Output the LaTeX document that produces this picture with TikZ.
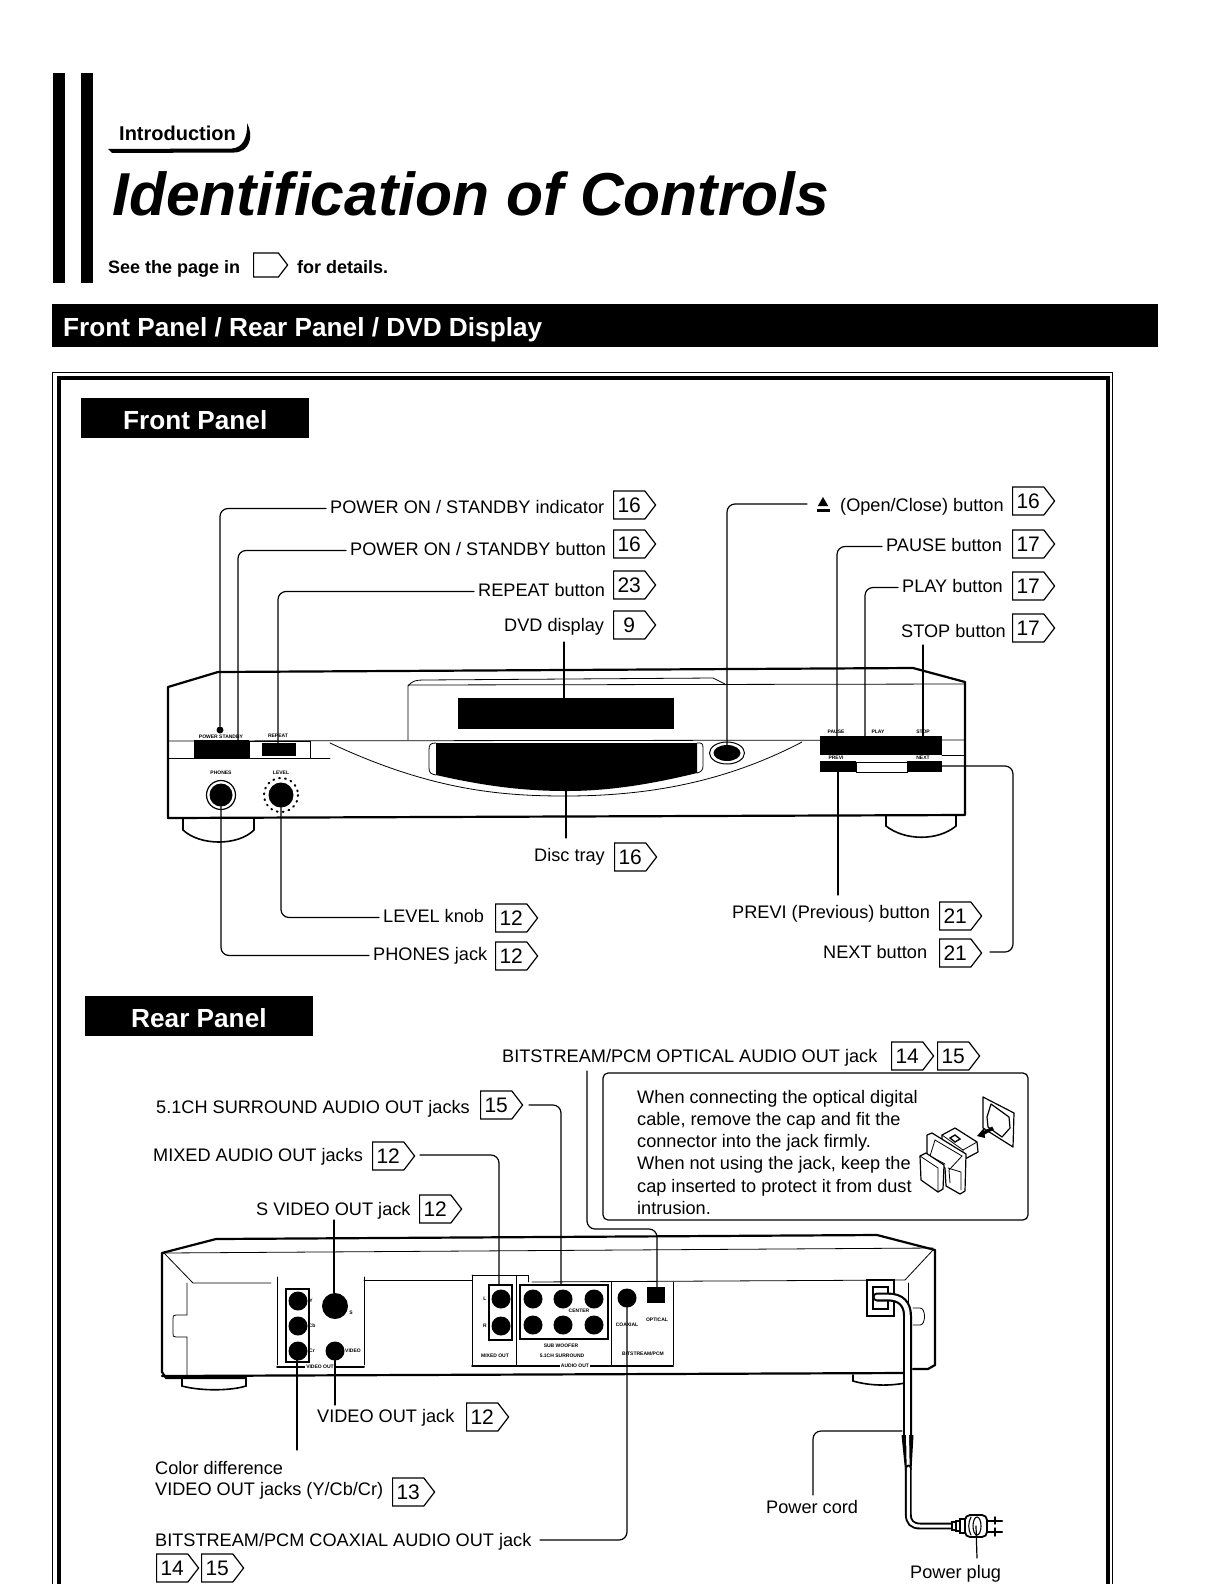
\documentclass[tikz,border=0pt]{standalone}
\usepackage{fontspec}
\setmainfont{Liberation Sans}
\usetikzlibrary{shapes.geometric,shapes.symbols}

\begin{document}
\begin{tikzpicture}[x=1pt, y=-1pt, line cap=round]
\tikzset{
  lab/.style={anchor=base west, font=\fontsize{18.15}{20}\selectfont, text height=13pt, text depth=4pt, inner sep=4pt},
  badge/.style={anchor=west, draw, line width=1.2pt, signal, signal to=east, signal from=nowhere, signal pointer angle=105, minimum width=42pt, minimum height=28pt, inner sep=1pt, font=\fontsize{21}{21}\selectfont},
  lead/.style={line width=1.2pt, rounded corners=8pt},
  hull/.style={line width=2.2pt, line join=round},
  thin line/.style={line width=0.8pt},
  cap line/.style={line width=1.2pt, line join=round, fill=white},
  tag/.style={anchor=base west, inner sep=0pt, text=white, font=\bfseries\fontsize{26.2}{26}\selectfont},
  mini/.style={inner sep=0pt, font=\bfseries\fontsize{5}{5}\selectfont},
  jack/.style={circle, fill=black, inner sep=0pt, outer sep=0pt, minimum size=19pt}
}
\useasboundingbox (0,0) rectangle (1224,1584);

% heading
\fill (53,73) rectangle (65,283);
\fill (81,73) rectangle (93,283);
\node[anchor=base west, inner sep=0pt, font=\bfseries\fontsize{20}{20}\selectfont] (intro) at (119,141) {Introduction};
\fill (108,149) -- (232,148.5) .. controls (242,148) and (248,138) .. (247,123) .. controls (254,136) and (250,152) .. (234,152.5) -- (112,153) -- cycle;
\node[anchor=base west, inner sep=0pt, font=\bfseries\itshape\fontsize{60.6}{60}\selectfont] (title) at (112,215) {Identification of Controls};
\node[anchor=base west, inner sep=0pt, font=\bfseries\fontsize{18}{18}\selectfont] (see) at (108,273) {See the page in};
\node[badge, minimum width=34pt, minimum height=24pt] (seebadge) at (253,265) {};
\node[anchor=base west, inner sep=0pt, font=\bfseries\fontsize{18}{18}\selectfont] (details) at (297,273) {for details.};
\fill (52,304) rectangle (1158,347);
\node[tag] (bar) at (63,336) {Front Panel / Rear Panel / DVD Display};

% frame
\draw[line width=0.8pt] (52,1584) -- (52,372) -- (1112,372) -- (1112,1584);
\draw[line width=3.5pt] (59,1584) -- (59,378) -- (1108,378) -- (1108,1584);
\fill (81,398) rectangle (309,438);
\node[tag] (fronttag) at (123,429) {Front Panel};
\fill (85,996) rectangle (313,1036);
\node[tag] (reartag) at (131,1027) {Rear Panel};

% front unit
\draw[hull, fill=white] (168,818) -- (168,687) -- (218,672) -- (913,668) -- (965,682) -- (965,815) -- cycle;
\draw[thin line] (408,740) -- (408,686) .. controls (412,681) and (416,680) .. (423,680) -- (713,678) -- (725,684);
\draw[thin line] (408,685) -- (965,684);
\draw[thin line] (168,741) -- (965,740);
\draw[thin line] (168,758) -- (330,758);
\draw[thin line] (942,755) -- (965,755);
\draw[thin line] (330,743) .. controls (430,790) and (500,796) .. (565,796) .. controls (640,796) and (720,785) .. (802,742);
\draw[line width=1.6pt] (183,819) -- (183,830) .. controls (200,846) and (238,846) .. (254,830) -- (254,818);
\draw[line width=1.6pt] (886,816) -- (886,826) .. controls (905,841) and (938,841) .. (956,826) -- (956,815);
\fill (458,698) rectangle (674,729);
\draw[thin line] (436,743) .. controls (430,743) and (429,745) .. (429,750) -- (429,768) .. controls (429,773) and (431,774) .. (436,775);
\draw[thin line] (697,743) -- (700,743) .. controls (703,743) and (703,746) .. (703,750) -- (703,766) .. controls (703,770) and (701,772) .. (697,773);
\fill (436,743) -- (697,743) -- (697,773) .. controls (640,787) and (600,791) .. (566,791) .. controls (520,791) and (480,785) .. (436,775) -- cycle;
\fill (194,740) rectangle (249,758);
\draw[thin line] (249,741) rectangle (310,758);
\fill (262,743) rectangle (296,756);
\fill (820,736) rectangle (942,755);
\draw[thin line] (856,762) rectangle (907,772);
\fill (820,761) rectangle (856,772);
\fill (907,761) rectangle (942,772);
\node[circle, fill=black, inner sep=0pt, minimum size=7pt] (pwrdot) at (220,730) {};
\node[ellipse, draw, line width=1pt, inner sep=0pt, minimum width=35pt, minimum height=22pt] (ejectring) at (727,753) {};
\node[ellipse, fill=black, inner sep=0pt, minimum width=27pt, minimum height=16pt] (ejectbtn) at (727,753) {};
\node[circle, draw, line width=1.2pt, inner sep=0pt, minimum size=29pt] (phonesring) at (221,795) {};
\node[jack, minimum size=23pt] (phones) at (221,795) {};
\draw[dash pattern=on 1pt off 5pt, line width=2pt] (281,795) circle (17);
\node[jack, minimum size=25pt] (knob) at (281,795) {};
\node[mini] (m1) at (221,773) {PHONES};
\node[mini] (m2) at (281,773) {LEVEL};
\node[mini] (m3) at (278,736) {REPEAT};
\node[mini] (m4) at (221,737) {POWER  STANDBY};
\node[mini] (m5) at (836,732) {PAUSE};
\node[mini] (m6) at (878,732) {PLAY};
\node[mini] (m7) at (923,732) {STOP};
\node[mini] (m8) at (836,758) {PREVI};
\node[mini] (m9) at (923,758) {NEXT};
\coordinate (pwrbtn) at (238,740);
\coordinate (repeatbtn) at (278,743);
\coordinate (dvdtop) at (564,642);
\coordinate (dvdwin) at (564,698);
\coordinate (pausebtn) at (837,736);
\coordinate (playbtn) at (865,736);
\coordinate (stoptop) at (923,645);
\coordinate (stopbtn) at (923,736);
\coordinate (prevbtn) at (838,772);
\coordinate (prevend) at (838,895);
\coordinate (nextbtn) at (942,766);
\coordinate (nextend) at (990,952);
\coordinate (traybtm) at (566,790);
\coordinate (traylow) at (566,838);
\coordinate (ejectend) at (807,504);

% front labels
\node[lab] (powerlab) at (326,513) {POWER ON / STANDBY indicator};
\node[badge] (b1) at (613,505) {16};
\node[lab] (standbylab) at (346,555) {POWER ON / STANDBY button};
\node[badge] (b2) at (613,544) {16};
\node[lab] (repeatlab) at (474,596) {REPEAT button};
\node[badge] (b3) at (613,585) {23};
\node[lab] (dvdlab) at (500,631) {DVD display};
\node[badge] (b4) at (613,625) {9};
\node[regular polygon, regular polygon sides=3, fill=black, inner sep=0pt, minimum size=12pt] (ejectsym) at (823,503) {};
\fill (817,509) rectangle (830,511.5);
\node[lab] (openlab) at (836,511) {(Open/Close) button};
\node[badge] (b5) at (1012,501) {16};
\node[lab] (pauselab) at (882,551) {PAUSE button};
\node[badge] (b6) at (1012,544) {17};
\node[lab] (playlab) at (898,592) {PLAY button};
\node[badge] (b7) at (1012,586) {17};
\node[lab] (stoplab) at (897,637) {STOP button};
\node[badge] (b8) at (1012,628) {17};
\node[lab] (traylab) at (530,861) {Disc tray};
\node[badge] (b9) at (614,857) {16};
\node[lab] (levellab) at (379,922) {LEVEL knob};
\node[badge] (b10) at (495,918) {12};
\node[lab] (phoneslab) at (369,960) {PHONES jack};
\node[badge] (b11) at (495,956) {12};
\node[lab] (prevlab) at (728,918) {PREVI (Previous) button};
\node[badge] (b12) at (939,916) {21};
\node[lab] (nextlab) at (819,958) {NEXT button};
\node[badge] (b13) at (939,953) {21};

\draw[lead] (powerlab.west) -| (pwrdot.north);
\draw[lead] (standbylab.west) -| (pwrbtn);
\draw[lead] (repeatlab.west) -| (repeatbtn);
\draw[lead] (dvdtop) -- (dvdwin);
\draw[lead] (ejectend) -| (ejectbtn.north);
\draw[lead] (pauselab.west) -| (pausebtn);
\draw[lead] (playlab.west) -| (playbtn);
\draw[lead] (stoptop) -- (stopbtn);
\draw[lead] (traybtm) -- (traylow);
\draw[lead] (prevbtn) -- (prevend);
\draw[lead] (nextbtn) -- (1013,766) -- (1013,952) -- (nextend);
\draw[lead] (knob.south) |- (levellab.west);
\draw[lead] (phones.south) |- (phoneslab.west);

% rear unit
\draw[hull] (246,1378) -- (166,1378) -- (162,1372) -- (162,1253) -- (216,1239) -- (877,1235) -- (935,1250) -- (935,1365) -- (928,1369) -- (913,1369);
\draw[hull] (162,1376) -- (905,1373);
\draw[thin line] (164,1253) -- (933,1248);
\draw[thin line] (164,1253) -- (193,1283) -- (271,1283);
\draw[thin line] (187,1283) -- (187,1315) -- (176,1315) .. controls (173,1315) and (173,1316) .. (173,1319) -- (173,1333) .. controls (173,1336) and (173,1337) .. (176,1337) -- (187,1337) -- (187,1376);
\draw[thin line] (364,1280) -- (472,1280);
\draw[thin line] (532,1282) -- (905,1280) -- (933,1250);
\draw[thin line] (908,1283) -- (908,1372);
\draw[thin line] (913,1308) -- (920,1308) .. controls (926,1308) and (926,1325) .. (920,1325) -- (913,1325);
\draw[line width=1.6pt] (182,1378) -- (182,1386) .. controls (200,1391) and (230,1391) .. (246,1386) -- (246,1378);
\draw[line width=1.6pt] (853,1375) -- (853,1381) .. controls (870,1386) and (890,1386) .. (905,1383);
\draw[thin line] (277,1277) -- (277,1365);
\draw[thin line] (364,1277) -- (364,1365);
\draw[line width=2pt] (277,1367) -- (364,1367);
\draw[line width=1.4pt] (286,1289) rectangle (309,1362);
\node[jack] (yjack) at (298,1301) {};
\node[jack] (cbjack) at (298,1326) {};
\node[jack] (crjack) at (298,1351) {};
\node[jack, minimum size=26pt] (sjack) at (335,1306) {};
\node[jack] (vjack) at (335,1351) {};
\draw[thin line] (472,1275) -- (472,1365);
\draw[thin line] (516,1276) -- (516,1365);
\draw[thin line] (472,1275) -- (528,1275) -- (528,1282);
\draw[thin line] (611,1282) -- (611,1365);
\draw[thin line] (673,1282) -- (673,1365);
\draw[line width=2pt] (472,1366) -- (673,1366);
\draw[line width=1.6pt] (489,1285) rectangle (512,1340);
\draw[line width=1.6pt] (520,1285) rectangle (608,1339);
\node[jack] (mixl) at (501,1299) {};
\node[jack] (mixr) at (501,1326) {};
\node[jack] (sur1) at (533,1299) {};
\node[jack] (sur2) at (563,1299) {};
\node[jack] (sur3) at (594,1299) {};
\node[jack] (sur4) at (533,1325) {};
\node[jack] (sur5) at (563,1325) {};
\node[jack] (sur6) at (594,1325) {};
\node[jack] (coax) at (627,1298) {};
\fill (647,1287) rectangle (665,1303);
\node[mini, fill=white, inner sep=1pt] (r1) at (320,1367) {VIDEO OUT};
\node[mini, fill=white, inner sep=1pt] (r2) at (575,1366) {AUDIO OUT};
\node[mini] (r3) at (495,1356) {MIXED OUT};
\node[mini] (r4) at (562,1356) {5.1CH SURROUND};
\node[mini] (r5) at (643,1354) {BITSTREAM/PCM};
\node[mini] (r6) at (627,1325) {COAXIAL};
\node[mini] (r7) at (657,1320) {OPTICAL};
\node[mini] (r8) at (579,1311) {CENTER};
\node[mini] (r9) at (561,1346) {SUB WOOFER};
\node[mini] (r10) at (311,1301) {Y};
\node[mini] (r11) at (312,1326) {Cb};
\node[mini] (r12) at (312,1351) {Cr};
\node[mini] (r13) at (351,1313) {S};
\node[mini] (r14) at (353,1351) {VIDEO};
\node[mini] (r15) at (485,1299) {L};
\node[mini] (r16) at (485,1326) {R};
\coordinate (optbtn) at (657,1287);
\coordinate (surtop) at (561,1285);
\coordinate (mixtop) at (499,1285);

% power cord
\draw[line width=1.2pt] (867,1280) rectangle (894,1316);
\draw[line width=1.2pt] (873,1287) rectangle (888,1309);
\draw[line width=2.2pt, double=white, double distance=4.6pt] (877,1297) -- (888,1297) .. controls (901,1297) and (907.5,1304) .. (907.5,1316) -- (907.5,1436);
\fill (901.5,1435) -- (913.5,1435) -- (911.5,1470) -- (905,1470) -- cycle;
\draw[line width=3pt, white] (907.5,1433) -- (908.2,1470);
\draw[line width=1.9pt, double=white, double distance=3pt] (908.3,1468) -- (908.3,1514) .. controls (908.3,1522) and (912,1526) .. (920,1526) -- (952,1526);
\draw[line width=1.6pt, fill=white] (952,1522) rectangle (956,1530);
\draw[line width=1.6pt, fill=white] (956,1521) rectangle (960,1531);
\draw[line width=1.6pt, fill=white] (960,1519) rectangle (965,1533);
\node[draw, line width=1.8pt, rounded corners=5pt, fill=white, minimum width=22pt, minimum height=22pt, inner sep=0pt] (plug) at (976,1526) {};
\draw[line width=1.1pt] (971,1517) .. controls (968,1522) and (968,1530) .. (971,1535);
\draw[line width=1.1pt] (977,1526) ellipse (4 and 9);
\draw[line width=2.2pt] (987,1521) -- (1002,1521);
\draw[line width=2.2pt] (987,1532) -- (1002,1532);
\draw[line width=1.4pt] (995,1517) -- (995,1524);
\draw[line width=1.4pt] (995,1528) -- (995,1536);
\coordinate (cordpt) at (902,1431);
\coordinate (plugtop) at (977,1558);
\coordinate (cordend) at (813,1495);

% note
\draw[line width=1.2pt, rounded corners=5pt] (603,1073) rectangle (1028,1220);
\node[anchor=north west, inner sep=0pt, align=left, font=\fontsize{18.15}{22.2}\selectfont] (note) at (637,1090) {When connecting the optical digital\\cable, remove the cap and fit the\\connector into the jack firmly.\\When not using the jack, keep the\\cap inserted to protect it from dust\\intrusion.};
\draw[cap line] (983,1097) -- (1014,1113) -- (1013,1147) -- (983,1128) -- cycle;
\draw[cap line] (991,1104) -- (1009,1117) -- (1010,1128) -- (1002,1137) -- (988,1127) -- (987,1117) -- cycle;
\draw[line width=3.4pt, line cap=butt] (993,1128) -- (982,1134);
\fill (984,1128) -- (985,1138) -- (977,1136) -- cycle;
\draw[cap line] (942,1135) -- (955,1128) -- (977,1142) -- (978,1152) -- (963,1160) -- (942,1145) -- cycle;
\draw[thin line] (963,1150) -- (977,1142);
\draw[thin line] (942,1135) -- (963,1150) -- (963,1160);
\draw[line width=1.4pt] (950,1138) -- (955,1135) -- (960,1139) -- (955,1142) -- cycle;
\draw[cap line] (927,1135) -- (932,1133) -- (966,1154) -- (965,1191) -- (960,1194) -- (946,1186) -- (945,1168) -- (927,1158) -- cycle;
\draw[thin line] (935,1140) -- (930,1156) -- (945,1164);
\draw[thin line] (935,1140) -- (962,1156) -- (949,1170) -- (950,1183);
\draw[thin line] (948,1168) -- (961,1172) -- (961,1190);
\draw[cap line] (920,1156) -- (926,1153) -- (944,1165) -- (943,1189) -- (938,1192) -- (921,1180) -- cycle;
\draw[thin line] (920,1156) -- (938,1168) -- (938,1192);

% rear labels
\node[lab] (optlab) at (498,1062) {BITSTREAM/PCM OPTICAL AUDIO OUT jack};
\node[badge] (b14) at (891,1056) {14};
\node[badge] (b15) at (937,1056) {15};
\node[lab] (surlab) at (152,1113) {5.1CH SURROUND AUDIO OUT jacks};
\node[badge] (b16) at (480,1105) {15};
\node[lab] (mixlab) at (149,1161) {MIXED AUDIO OUT jacks};
\node[badge] (b17) at (372,1156) {12};
\node[lab] (svidlab) at (252,1215) {S VIDEO OUT jack};
\node[badge] (b18) at (419,1209) {12};
\node[lab] (vidlab) at (313,1422) {VIDEO OUT jack};
\node[badge] (b19) at (466,1417) {12};
\node[lab] (colorlab) at (151,1474) {Color difference};
\node[lab] (colorlabb) at (151,1495) {VIDEO OUT jacks (Y/Cb/Cr)};
\node[badge] (b20) at (392,1492) {13};
\node[lab] (coaxlab) at (151,1546) {BITSTREAM/PCM COAXIAL AUDIO OUT jack};
\node[badge] (b21) at (156,1568) {14};
\node[badge] (b22) at (201,1568) {15};
\node[lab] (cordlab) at (762,1513) {Power cord};
\node[lab] (pluglab) at (906,1578) {Power plug};
\coordinate (optstart) at (587,1071);
\coordinate (surstart) at (529,1105);
\coordinate (mixstart) at (420,1155);
\coordinate (svidstart) at (334,1220);
\coordinate (vidend) at (335,1405);
\coordinate (crend) at (297,1450);
\coordinate (coaxstart) at (540,1540);

\draw[lead] (optstart) -- (587,1229) -- (657,1229) -- (optbtn);
\draw[lead] (surstart) -| (surtop);
\draw[lead] (mixstart) -| (mixtop);
\draw[lead] (svidstart) -- (sjack.north -| svidstart);
\draw[lead] (vjack.south) -- (vidend);
\draw[lead] (crjack.south -| crend) -- (crend);
\draw[lead] (coaxstart) -| (coax.south);
\draw[lead] (cordend) |- (cordpt);
\draw[lead] (plug.center) -- (plugtop);
\end{tikzpicture}
\end{document}
